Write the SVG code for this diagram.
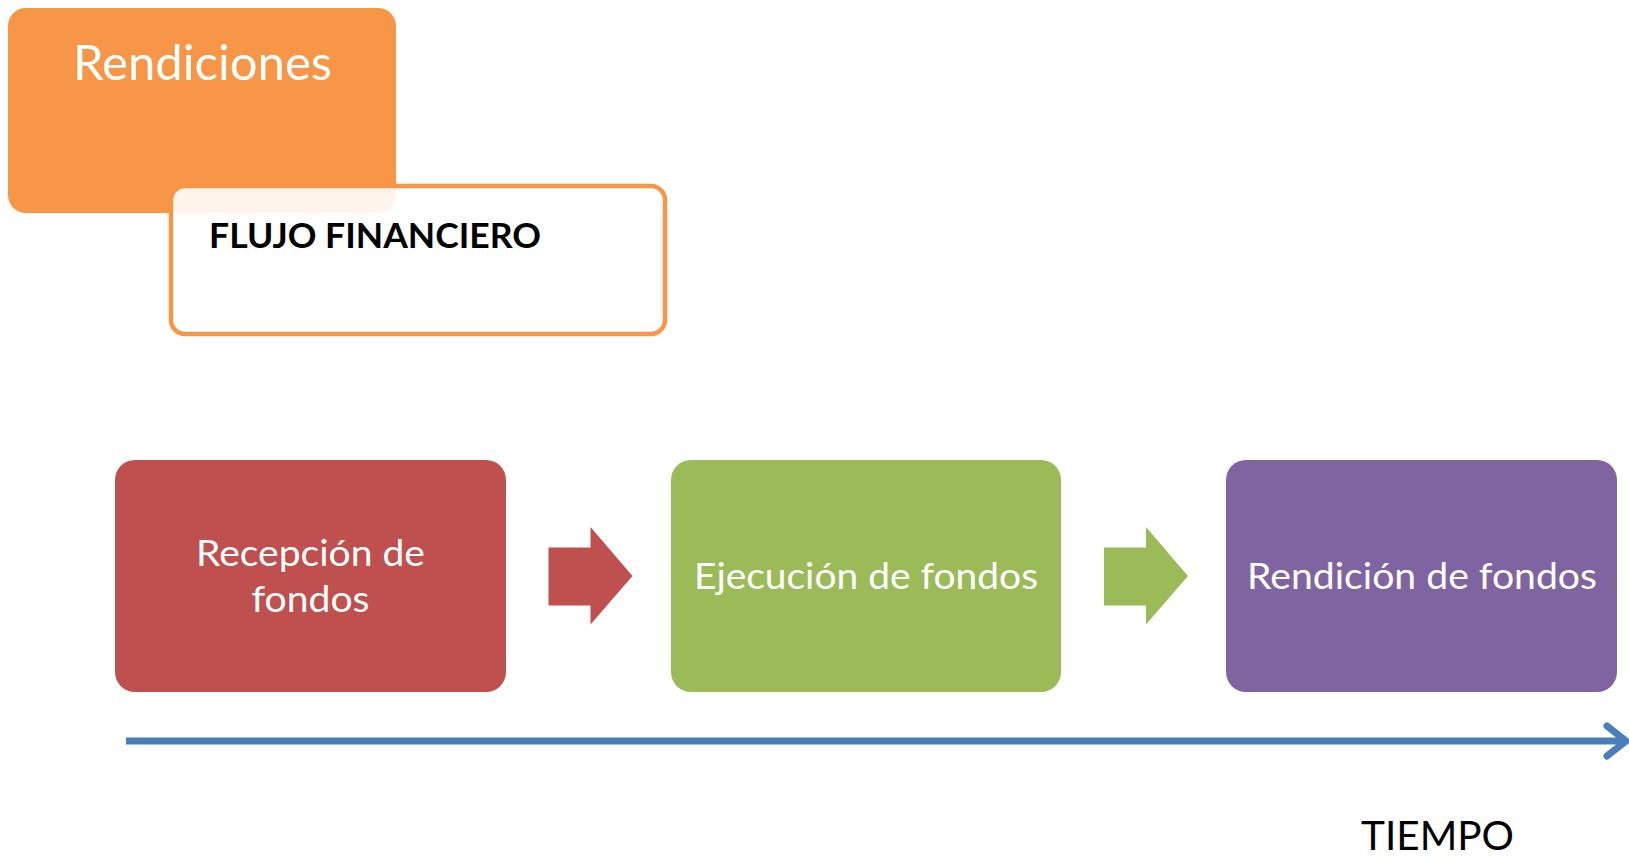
<svg xmlns="http://www.w3.org/2000/svg" width="1629" height="857" viewBox="0 0 1629 857">
<style>
.t{font-family:Lato,"Open Sans","Liberation Sans",sans-serif;fill:#fff}
.box{stroke:none}
.lbl{font-size:36px;text-anchor:middle}
</style>
<rect width="1629" height="857" fill="#fff"/>
<g id="rendiciones">
<rect x="8" y="8" width="388" height="205" rx="18" fill="#F79646"/>
<text class="t" x="73" y="80" font-size="48" textLength="259" lengthAdjust="spacingAndGlyphs">Rendiciones</text>
</g>
<g id="flujo">
<rect x="171" y="186" width="494" height="148" rx="14" fill="#fff" fill-opacity="0.9" stroke="#F79646" stroke-width="4.5"/>
<text class="t" x="209" y="248" font-size="35" font-weight="bold" style="fill:#000" textLength="332" lengthAdjust="spacingAndGlyphs">FLUJO FINANCIERO</text>
</g>
<g id="recepcion">
<rect class="box" x="115" y="460" width="391" height="232" rx="20" fill="#C0504D"/>
<text class="t lbl" x="310.5" y="566" textLength="229" lengthAdjust="spacingAndGlyphs">Recepción de</text>
<text class="t lbl" x="310.5" y="612" textLength="118" lengthAdjust="spacingAndGlyphs">fondos</text>
</g>
<g id="ejecucion">
<rect class="box" x="671" y="460" width="390" height="232" rx="20" fill="#9BBB59"/>
<text class="t lbl" x="866" y="589" textLength="344" lengthAdjust="spacingAndGlyphs">Ejecución de fondos</text>
</g>
<g id="rendicion">
<rect class="box" x="1226" y="460" width="391" height="232" rx="20" fill="#8064A2"/>
<text class="t lbl" x="1422" y="589" textLength="350" lengthAdjust="spacingAndGlyphs">Rendición de fondos</text>
</g>
<g id="connectors">
<polygon points="548.5,547.5 590.5,547.5 590.5,527 632.5,576 590.5,624.5 590.5,605.5 548.5,605.5" fill="#C0504D"/>
<polygon points="1104,547.5 1146,547.5 1146,527 1188,576 1146,624.5 1146,605.5 1104,605.5" fill="#9BBB59"/>
<line x1="126" y1="741" x2="1624" y2="741" stroke="#4A7EBB" stroke-width="7"/>
<polyline points="1607,726 1626,741 1607,756" fill="none" stroke="#4A7EBB" stroke-width="7" stroke-linecap="round" stroke-linejoin="round"/>
</g>
<g id="tiempo">
<text class="t" x="1361" y="850" font-size="40" style="fill:#000" textLength="153" lengthAdjust="spacingAndGlyphs">TIEMPO</text>
</g>
</svg>
